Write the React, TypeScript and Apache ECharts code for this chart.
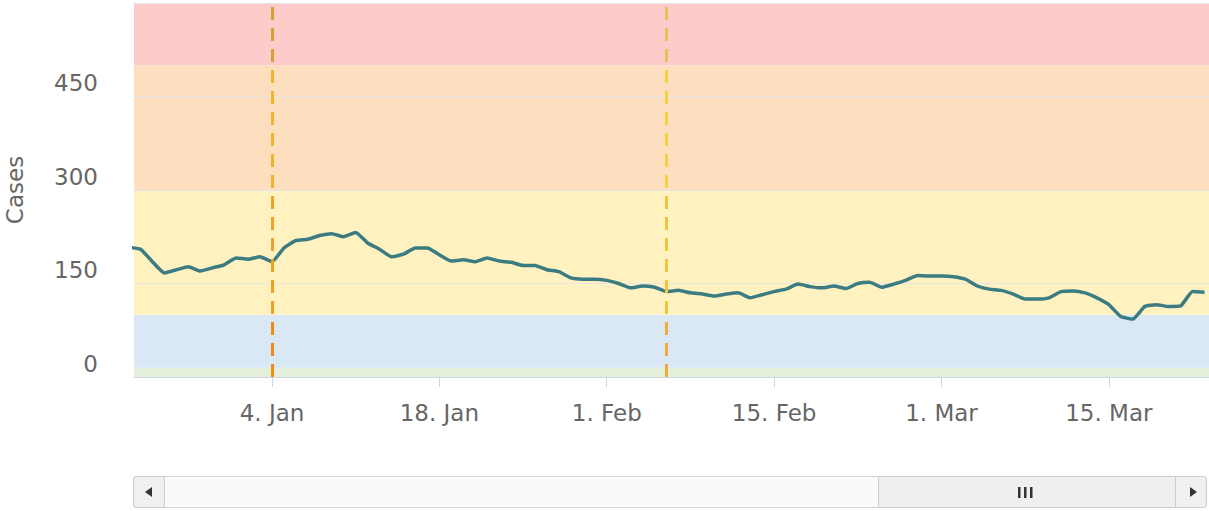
import React, { useEffect, useRef } from "react";
import * as echarts from "echarts";

// Daily values (Dec 23, 2020 -> Mar 23, 2021)
const decValues = [208, 205, 185, 167, 172, 177, 170, 175, 180];
const janValues = [191, 189, 193, 185, 207, 219, 221, 227, 230, 225, 232, 215, 205, 193, 197, 207, 207, 196, 186, 188, 185, 191, 186, 184, 179, 179, 172, 169, 159, 157, 157];
const febValues = [155, 150, 143, 146, 144, 137, 139, 135, 133, 130, 133, 135, 127, 132, 137, 141, 149, 145, 143, 146, 142, 150, 152, 144, 149, 155, 163, 162];
const marValues = [162, 161, 157, 146, 141, 139, 133, 125, 125, 127, 137, 138, 135, 127, 116, 97, 93, 113, 116, 113, 114, 137, 136];
const firstDate = "2020-12-23";

const tickDates = ["2021-01-04", "2021-01-18", "2021-02-01", "2021-02-15", "2021-03-01", "2021-03-15"];
const markerDates = ["2021-01-04", "2021-02-06"];
const bands = [
  { from: 0, to: 15, color: "#e4f0dc" },
  { from: 15, to: 100, color: "#dae8f5" },
  { from: 100, to: 300, color: "#fff2c0" },
  { from: 300, to: 500, color: "#fddfc0" },
  { from: 500, to: 600, color: "#fecbcb" },
];
const viewStart = "2020-12-23T11:00:00Z";
const viewEnd = "2021-03-23T09:00:00Z";

const DAY = 86400000;
const MONTHS = ["Jan", "Feb", "Mar", "Apr", "May", "Jun", "Jul", "Aug", "Sep", "Oct", "Nov", "Dec"];
const ts = (s: string) => new Date(s.length === 10 ? s + "T00:00:00Z" : s).getTime();
const ORIGIN = ts(tickDates[0]);
// x position in days relative to the first tick date
const dayOf = (s: string) => (ts(s) - ORIGIN) / DAY;

const allValues = [...decValues, ...janValues, ...febValues, ...marValues];
const seriesData = allValues.map((v, i) => [dayOf(firstDate) + i, v]);

const FONT = "DejaVu Sans";

function grad(colors: string[]) {
  const b = [0, 100 / 600, 300 / 600, 500 / 600, 585 / 600, 1];
  const stops: any[] = [];
  colors.forEach((c, i) => {
    stops.push({ offset: b[i], color: c });
    stops.push({ offset: b[i + 1], color: c });
  });
  return { type: "linear", x: 0, y: 3, x2: 0, y2: 377, global: true, colorStops: stops };
}

export default function App() {
  const ref = useRef<HTMLDivElement>(null);
  useEffect(() => {
    if (!ref.current) return;
    const chart = echarts.init(ref.current, null, { renderer: "svg" });
    const tickVals = tickDates.map(dayOf);
    const option: any = {
      animation: false,
      grid: { left: 134, right: 0, top: 3, bottom: 134, containLabel: false, outerBoundsMode: "none" },
      xAxis: {
        type: "value",
        min: dayOf(viewStart),
        max: dayOf(viewEnd),
        z: 2,
        axisLine: { show: true, lineStyle: { color: "#ccd6eb", width: 1 } },
        axisTick: { show: true, length: 10, lineStyle: { color: "#ccd6eb" }, customValues: tickVals },
        splitLine: { show: false },
        axisLabel: {
          customValues: tickVals,
          margin: 24,
          fontSize: 23,
          fontFamily: FONT,
          color: "#666666",
          formatter: (v: number) => {
            const d = new Date(ORIGIN + v * DAY);
            return d.getUTCDate() + ". " + MONTHS[d.getUTCMonth()];
          },
        },
      },
      yAxis: {
        type: "value",
        min: 0,
        max: 600,
        interval: 150,
        z: 2,
        name: "Cases",
        nameLocation: "middle",
        nameGap: 108,
        nameTextStyle: { fontSize: 23, fontFamily: FONT, color: "#666666" },
        axisLine: { show: false },
        axisTick: { show: false },
        splitLine: { show: true, lineStyle: { color: "#e6e6e6", width: 1 } },
        axisLabel: {
          margin: 36,
          fontSize: 23,
          fontFamily: FONT,
          color: "#666666",
          verticalAlign: "bottom",
          padding: [0, 0, 2, 0],
          formatter: (v: number) => (v === 600 ? "" : String(v)),
        },
      },
      series: [
        {
          type: "line",
          z: 1,
          silent: true,
          data: seriesData,
          showSymbol: false,
          lineStyle: { opacity: 0, width: 0 },
          markArea: {
            silent: true,
            data: bands.map((b) => [
              { yAxis: b.from, itemStyle: { color: b.color, opacity: 1 } },
              { yAxis: b.to },
            ]),
          },
        },
        {
          type: "line",
          z: 2.5,
          silent: true,
          data: seriesData,
          showSymbol: false,
          lineStyle: { opacity: 0, width: 0 },
          markLine: {
            silent: true,
            symbol: ["none", "none"],
            label: { show: false },
            data: [
              {
                xAxis: dayOf(markerDates[0]),
                lineStyle: {
                  type: [13, 8],
                  width: 3,
                  color: grad(["#d8a030", "#f0b428", "#f3a020", "#f08a10", "#f08a10"]),
                },
              },
              {
                xAxis: dayOf(markerDates[1]),
                lineStyle: {
                  type: [13, 8],
                  width: 3,
                  color: grad(["#e2c452", "#f5d040", "#f5c23e", "#f4ab3c", "#f4ab3c"]),
                },
              },
            ],
          },
        },
        {
          type: "line",
          z: 3,
          data: seriesData,
          showSymbol: false,
          smooth: 0.15,
          lineStyle: { color: "#3b7c82", width: 3.5 },
          itemStyle: { color: "#3b7c82" },
        },
      ],
      graphic: [
        {
          type: "rect",
          shape: { x: 133.5, y: 476.5, width: 1073, height: 31, r: 3 },
          style: { fill: "#fafafa", stroke: "#d8d8d8", lineWidth: 1 },
        },
        {
          type: "rect",
          shape: { x: 878.5, y: 476.5, width: 297, height: 31, r: 0 },
          style: { fill: "#efefef", stroke: "#cccccc", lineWidth: 1 },
        },
        {
          type: "rect",
          shape: { x: 133.5, y: 476.5, width: 31, height: 31, r: [3, 0, 0, 3] },
          style: { fill: "#f0f0f0", stroke: "#cccccc", lineWidth: 1 },
        },
        {
          type: "rect",
          shape: { x: 1175.5, y: 476.5, width: 31, height: 31, r: [0, 3, 3, 0] },
          style: { fill: "#f0f0f0", stroke: "#cccccc", lineWidth: 1 },
        },
        {
          type: "polygon",
          shape: { points: [[145, 492], [152, 487], [152, 497]] },
          style: { fill: "#333333" },
        },
        {
          type: "polygon",
          shape: { points: [[1197, 492], [1190, 487], [1190, 497]] },
          style: { fill: "#333333" },
        },
        { type: "rect", shape: { x: 1018, y: 487, width: 2.5, height: 11 }, style: { fill: "#333333" } },
        { type: "rect", shape: { x: 1024, y: 487, width: 2.5, height: 11 }, style: { fill: "#333333" } },
        { type: "rect", shape: { x: 1030, y: 487, width: 2.5, height: 11 }, style: { fill: "#333333" } },
      ],
    };
    chart.setOption(option);
    return () => chart.dispose();
  }, []);
  return (
    <div
      ref={ref}
      style={{ position: "fixed", left: 0, top: 0, width: 1209, height: 511, background: "#ffffff" }}
    />
  );
}
